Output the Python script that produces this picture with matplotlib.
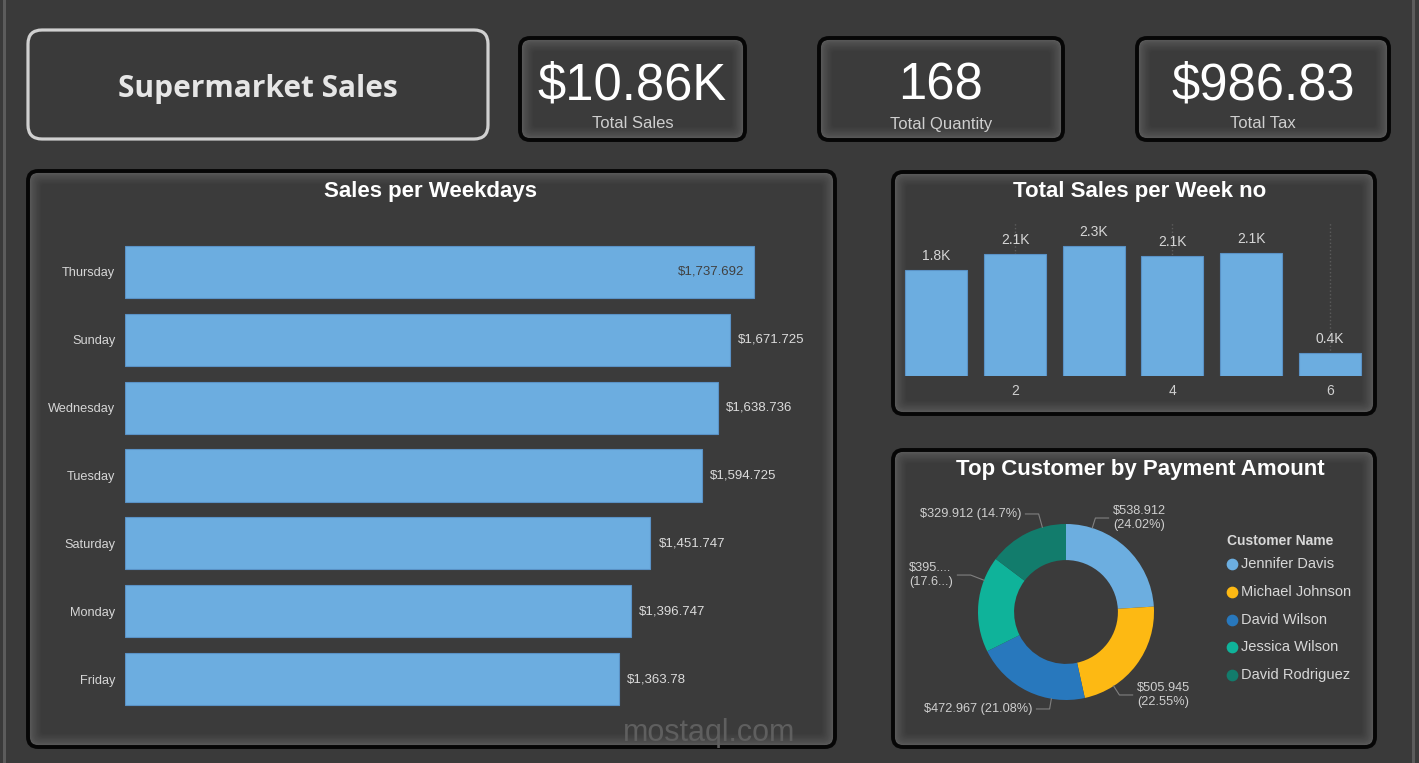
import numpy as np
import matplotlib
matplotlib.use('Agg')
from matplotlib import pyplot as plt
from matplotlib.patches import FancyBboxPatch
from matplotlib.colors import to_rgb

# data
days = ['Thursday', 'Sunday', 'Wednesday', 'Tuesday', 'Saturday', 'Monday', 'Friday']
day_sales = [1737.692, 1671.725, 1638.736, 1594.725, 1451.747, 1396.747, 1363.78]

weeks = [1, 2, 3, 4, 5, 6]
week_sales = [1845, 2123, 2262, 2088, 2140, 400]

customers = ['Jennifer Davis', 'Michael Johnson', 'David Wilson', 'Jessica Wilson', 'David Rodriguez']
customer_amounts = [538.912, 505.945, 472.967, 395.86, 329.912]
customer_labels = ['$538.912\n(24.02%)', '$505.945\n(22.55%)', '$472.967 (21.08%)',
                   '$395....\n(17.6...)', '$329.912 (14.7%)']
customer_colors = ['#6CAEE0', '#FDB913', '#2878BD', '#0FB39A', '#127C6C']

kpi_values = ['$10.86K', '168', '$986.83']
kpi_names = ['Total Sales', 'Total Quantity', 'Total Tax']

BG = '#3a3a3a'
BAR = '#6cade0'
plt.rcParams['font.family'] = ['Liberation Sans', 'DejaVu Sans']

W, H = 1419, 763
fig = plt.figure(figsize=(W / 100, H / 100), dpi=100, facecolor=BG)
bg = fig.add_axes([0, 0, 1, 1], zorder=0)
bg.set_xlim(0, W)
bg.set_ylim(H, 0)
bg.axis('off')


def rect(x0, y0, x1, y1):
    return [x0 / W, 1 - y1 / H, (x1 - x0) / W, (y1 - y0) / H]


def mix(c1, c2, t):
    a, b = np.array(to_rgb(c1)), np.array(to_rgb(c2))
    return tuple(a + (b - a) * t)


def rbox(x0, y0, x1, y1, r, **kw):
    bg.add_patch(FancyBboxPatch((x0, y0), x1 - x0, y1 - y0,
                                boxstyle=f"round,pad=0,rounding_size={r}", **kw))


def card(x0, y0, x1, y1, edge='#060606', lw=2.8, r=10, glow=True):
    if glow:
        steps = 10
        for i in range(steps):
            t = i / (steps - 1)
            inset = 1.5 + i * 1.3
            rbox(x0 + inset, y0 + inset, x1 - inset, y1 - inset, max(r - inset / 2, 2),
                 fc=mix('#595959', '#3b3b3b', t ** 0.7), ec='none')
    rbox(x0, y0, x1, y1, r, fc='none', ec=edge, lw=lw)


# side strips
bg.axvspan(3, 6, color='#5c5c5c', lw=0)
bg.axvspan(1412, 1415, color='#5c5c5c', lw=0)

# title card
card(28, 30, 488, 139, edge='#d0d0d0', lw=2.3, r=14, glow=False)
bg.text(258, 89, 'Supermarket Sales', ha='center', va='center', fontsize=21.5,
        fontweight='bold', color='#e6e6e6', family=['Open Sans', 'DejaVu Sans'])

# KPI cards
kpi_boxes = [(520, 38, 745, 140), (819, 38, 1063, 140), (1137, 38, 1389, 140)]
for (x0, y0, x1, y1), val, name in zip(kpi_boxes, kpi_values, kpi_names):
    card(x0, y0, x1, y1)
    cx = (x0 + x1) / 2
    bg.text(cx, 86, val, ha='center', va='center', fontsize=36.5, color='#ffffff')
    bg.text(cx, 124, name, ha='center', va='center', fontsize=12, color='#cfcfcf')

# panels
card(28, 171, 835, 747)
bg.text(431, 192, 'Sales per Weekdays', ha='center', va='center', fontsize=16,
        fontweight='bold', color='#ffffff')
card(893, 172, 1375, 414)
bg.text(1140, 192, 'Total Sales per Week no', ha='center', va='center', fontsize=16,
        fontweight='bold', color='#ffffff')
card(893, 450, 1375, 747)
bg.text(1140, 470, 'Top Customer by Payment Amount', ha='center', va='center', fontsize=16,
        fontweight='bold', color='#ffffff')

# watermark
bg.text(709, 733, 'mostaql.com', ha='center', va='center', fontsize=22,
        color='#5f5f5f', zorder=20)

# ---- Sales per weekdays
ax1 = fig.add_axes(rect(125, 238, 815, 713), zorder=2)
ax1.patch.set_alpha(0)
px1 = 629 / day_sales[0]
xmax1 = 690 / px1
ypos = np.arange(len(days))
ax1.barh(ypos, day_sales, height=0.77, color=BAR, edgecolor='#5a92c6', lw=0.8)
ax1.set_xlim(0, xmax1)
ax1.set_ylim(len(days) - 0.5, -0.5)
ax1.set_yticks(ypos)
ax1.set_yticklabels(days)
ax1.tick_params(axis='y', length=0, pad=7, labelsize=9.2, labelcolor='#d6d6d6')
ax1.set_xticks([])
for s in ax1.spines.values():
    s.set_visible(False)
for i, v in enumerate(day_sales):
    lab = f"${v:,.3f}".rstrip('0')
    if i == 0:
        ax1.text(v - 10 / px1, i, lab, ha='right', va='center', fontsize=9.5, color='#404040')
    else:
        ax1.text(v + 8 / px1, i, lab, ha='left', va='center', fontsize=9.5, color='#dcdcdc')

# ---- Total sales per week
ax2 = fig.add_axes(rect(897, 222, 1369, 376), zorder=2)
ax2.patch.set_alpha(0)
ax2.bar(weeks, week_sales, width=0.79, color=BAR, edgecolor='#5a92c6', lw=0.8, zorder=2)
ax2.set_xlim(0.5, 6.5)
ax2.set_ylim(0, 2680)
ax2.set_xticks([2, 4, 6])
ax2.set_yticks([])
ax2.grid(axis='x', ls=':', color='#5c5c5c', lw=1, zorder=0)
ax2.tick_params(axis='x', length=0, pad=6, labelsize=10, labelcolor='#cfcfcf')
for s in ax2.spines.values():
    s.set_visible(False)
for w, v in zip(weeks, week_sales):
    ax2.annotate(f"{v / 1000:.1f}K", (w, v), xytext=(0, 5), textcoords='offset points',
                 ha='center', va='bottom', fontsize=10, color='#d6d6d6')

# ---- Donut
ax3 = fig.add_axes(rect(966, 512, 1166, 712), zorder=2)
ax3.pie(customer_amounts, colors=customer_colors, startangle=90, counterclock=False,
        radius=1, wedgeprops=dict(width=0.41, edgecolor='none'))
lim = 100 / 88
ax3.set_xlim(-lim, lim)
ax3.set_ylim(-lim, lim)
ax3.set_aspect('equal')
# label layout: text anchor, alignment
label_pos = [(0.534, 1.068, 'left'), (0.807, -0.943, 'left'), (-0.386, -1.102, 'right'),
             (-1.284, 0.42, 'right'), (-0.511, 1.114, 'right')]
for lab, (tx, ty, ha) in zip(customer_labels, label_pos):
    ax3.text(tx, ty, lab, ha=ha, va='center', fontsize=9.2, color='#cfcfcf',
             multialignment='left', clip_on=False)
    sgn = -1 if ha == 'left' else 1
    end_x = tx + sgn * 0.05
    elb_x = end_x + sgn * 0.15
    ang = np.arctan2(ty, elb_x)
    ax3.plot([end_x, elb_x, np.cos(ang) * 1.0], [ty, ty, np.sin(ang) * 1.0],
             color='#808080', lw=0.8, clip_on=False)

# legend
bg.text(1227, 541, 'Customer Name', ha='left', va='center', fontsize=10, fontweight='bold',
        color='#d8d8d8', zorder=5)
for k, (name, col) in enumerate(zip(customers, customer_colors)):
    yy = 564 + k * 27.8
    bg.scatter([1232], [yy], s=55, color=col, zorder=5)
    bg.text(1241, yy, name, ha='left', va='center', fontsize=10.5, color='#d8d8d8', zorder=5)

fig.savefig('out.png', dpi=100, facecolor=BG)
